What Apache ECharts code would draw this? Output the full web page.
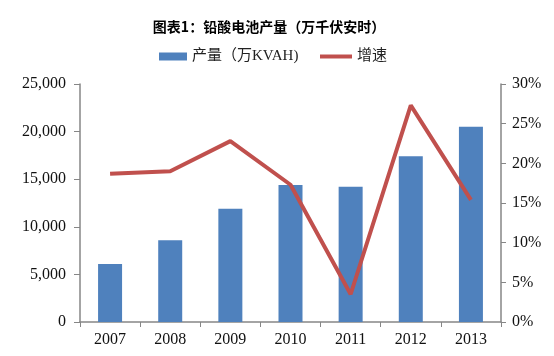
<!DOCTYPE html>
<html><head><meta charset="utf-8">
<script src="https://cdn.jsdelivr.net/npm/echarts@6/dist/echarts.min.js"></script>
<style>html,body{margin:0;padding:0;background:#fff}#c{width:554px;height:356px}</style>
</head><body><div id="c"></div>
<script>
var categories = ['2007','2008','2009','2010','2011','2012','2013'];
var output = [6100, 8600, 11900, 14400, 14200, 17400, 20500];
var growth = [18.7, 19.0, 22.8, 17.3, 3.5, 27.3, 15.4];
var leftTicks = [0, 5000, 10000, 15000, 20000, 25000];
var rightTicks = [0, 5, 10, 15, 20, 25, 30];

var chart = echarts.init(document.getElementById('c'), null, {renderer:'canvas'});
var serif = '"Liberation Serif","DejaVu Serif",serif';
var axisLine = {show:true, lineStyle:{color:'#868686', width:1.5}};
var legendText = {fontFamily:'"Liberation Serif","Noto Sans CJK SC"', fontSize:15, color:'#222'};
chart.setOption({
  animation:false,
  title:{text:'图表1：铅酸电池产量（万千伏安时）', left:264, top:15, textAlign:'center',
    textStyle:{fontFamily:'"Noto Sans CJK SC"', fontWeight:'bold', fontSize:14, color:'#000'}},
  legend:[
    {top:44, left:154, itemGap:4, itemWidth:28, itemHeight:8, textStyle:legendText,
      data:[{name:'产量（万KVAH)', icon:'rect'}]},
    {top:44, left:315, itemWidth:32, itemHeight:4, textStyle:legendText,
      data:[{name:'增速', icon:'rect'}]}
  ],
  grid:{left:80, right:53, top:84, bottom:34},
  xAxis:{type:'category', data:categories, axisLine:axisLine,
    axisTick:{show:true, alignWithLabel:false, length:5, lineStyle:{color:'#868686'}},
    axisLabel:{fontFamily:serif, fontSize:16, color:'#111', margin:10}},
  yAxis:[
    {type:'value', min:0, max:25000, interval:5000, splitLine:{show:false}, axisLine:axisLine,
      axisTick:{show:true, length:6, lineStyle:{color:'#868686'}},
      axisLabel:{fontFamily:serif, fontSize:16, color:'#111', margin:14,
        formatter:function(v){return v.toLocaleString('en-US');}}},
    {type:'value', min:0, max:30, interval:5, splitLine:{show:false}, axisLine:axisLine,
      axisTick:{show:true, length:5, lineStyle:{color:'#868686'}},
      axisLabel:{fontFamily:serif, fontSize:16, color:'#111', margin:11,
        formatter:function(v){return v+'%';}}}
  ],
  series:[
    {name:'产量（万KVAH)', type:'bar', data:output, barWidth:24, itemStyle:{color:'#4F81BD'}},
    {name:'增速', type:'line', yAxisIndex:1, data:growth, symbol:'none',
      lineStyle:{color:'#C0504D', width:4}, itemStyle:{color:'#C0504D'}}
  ]
});
</script></body></html>
